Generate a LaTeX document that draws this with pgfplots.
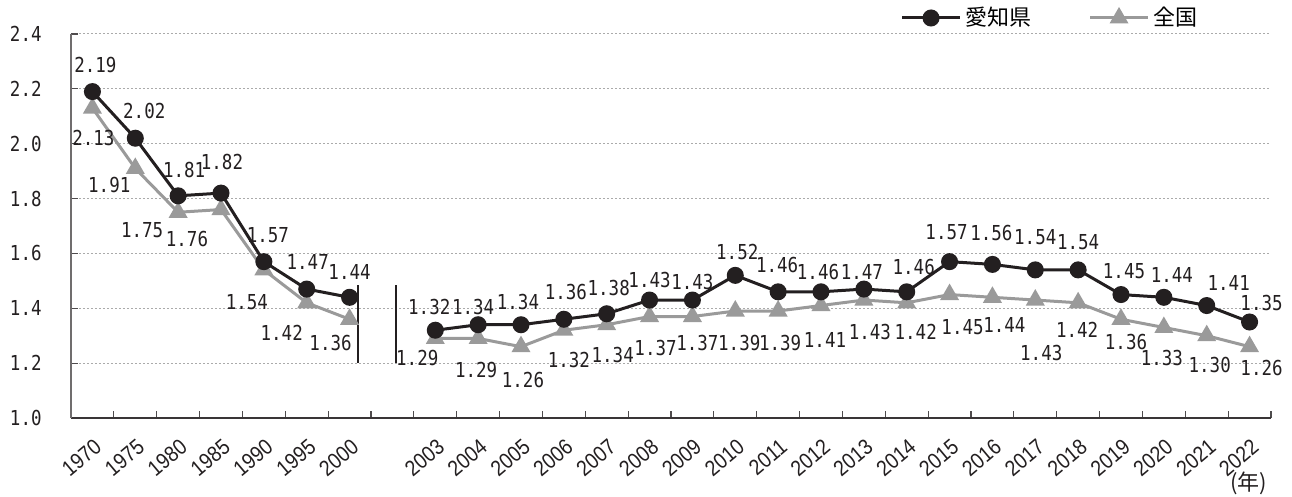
\documentclass[border=0pt]{standalone}
\usepackage{fontspec}
\usepackage{pgfplots}
\pgfplotsset{compat=1.18}
\setmainfont{Liberation Sans}
\newfontfamily\numfont[FakeStretch=0.85]{DejaVu Sans Mono}
\newfontfamily\xfont[FakeStretch=0.88]{Liberation Sans}
\newfontfamily\cjk{Noto Sans CJK JP}
\definecolor{aichi}{HTML}{231F20}
\definecolor{zenkoku}{HTML}{9A9A9A}
\definecolor{gridc}{HTML}{AAAAAA}
\newcommand{\numsize}{\numfont\fontsize{10.3pt}{12pt}\selectfont}

\pgfplotstableread{
x y lab dx up
0 2.19 2.19 3 27
1 2.02 2.02 9 27
2 1.81 1.81 6 26
3 1.82 1.82 1 31
4 1.57 1.57 4 27
5 1.47 1.47 1 27
6 1.44 1.44 0 25
}\aichiA
\pgfplotstableread{
x y lab dx up
8 1.32 1.32 -6 23
9 1.34 1.34 -5 18
10 1.34 1.34 -3 23
11 1.36 1.36 2 27
12 1.38 1.38 2 26
13 1.43 1.43 0 20
14 1.43 1.43 0 18
15 1.52 1.52 2 23
16 1.46 1.46 -1 27
17 1.46 1.46 -3 20
18 1.47 1.47 -2 17
19 1.46 1.46 7 25
20 1.57 1.57 -3 30
21 1.56 1.56 -1 31
22 1.54 1.54 0 33
23 1.54 1.54 0 28
24 1.45 1.45 3 23
25 1.44 1.44 8 22
26 1.41 1.41 22 23
27 1.35 1.35 12 19
}\aichiB
\pgfplotstableread{
x y lab dx up
0 2.13 2.13 1 -30
1 1.91 1.91 -26 -17
2 1.75 1.75 -36 -18
3 1.76 1.76 -34 -29
4 1.54 1.54 -17 -32
5 1.42 1.42 -25 -30
6 1.36 1.36 -19 -24
}\natA
\pgfplotstableread{
x y lab dx up
8 1.29 1.29 -18 -20
9 1.29 1.29 -2 -32
10 1.26 1.26 2 -33
11 1.32 1.32 5 -30
12 1.34 1.34 6 -30
13 1.37 1.37 6 -31
14 1.37 1.37 5 -26
15 1.39 1.39 4 -32
16 1.39 1.39 2 -32
17 1.41 1.41 4 -34
18 1.43 1.43 6 -32
19 1.42 1.42 9 -29
20 1.45 1.45 13 -33
21 1.44 1.44 12 -28
22 1.43 1.43 6 -53
23 1.42 1.42 -1 -27
24 1.36 1.36 5 -23
25 1.33 1.33 -2 -31
26 1.30 1.30 3 -29
27 1.26 1.26 12 -21
}\natB

\begin{document}
\begin{tikzpicture}
\begin{axis}[name=ax, scale only axis, width=600pt, height=192pt,
  xmin=-0.5, xmax=27.5, ymin=1.0, ymax=2.4,
  clip=false,
  axis x line*=bottom, axis y line*=left,
  x axis line style={color=aichi!90, line width=0.7pt},
  y axis line style={color=aichi!65, line width=0.7pt},
  tick align=inside,
  major tick length=3.5pt,
  tick style={color=aichi!80, line width=0.6pt},
  xtick={-0.5,0.5,...,27.5},
  xticklabels={},
  extra x ticks={0,1,2,3,4,5,6,8,9,10,11,12,13,14,15,16,17,18,19,20,21,22,23,24,25,26,27},
  extra x tick labels={1970,1975,1980,1985,1990,1995,2000,2003,2004,2005,2006,2007,2008,2009,2010,2011,2012,2013,2014,2015,2016,2017,2018,2019,2020,2021,2022},
  extra x tick style={tick style={draw=none}},
  xticklabel style={font=\xfont\fontsize{11pt}{13pt}\selectfont, text=aichi, inner sep=0pt, anchor=east, xshift=3pt, yshift=-13pt, rotate=40},
  ytick={1.0,1.2,1.4,1.6,1.8,2.0,2.2,2.4},
  yticklabels={1.0,1.2,1.4,1.6,1.8,2.0,2.2,2.4},
  yticklabel style={font=\numsize, text=aichi, inner sep=0pt, anchor=east, xshift=-14.5pt},
  ymajorgrids,
  grid style={color=gridc, line width=0.5pt, dash pattern=on 1pt off 1pt},
  legend columns=2,
  legend style={at={(0.8167,1.0417)}, anchor=center, draw=none, fill=none,
    font=\cjk\fontsize{11pt}{13pt}\selectfont, inner sep=0pt,
    /tikz/every even column/.append style={column sep=26.5pt}},
  legend image code/.code={\draw[mark repeat=2,mark phase=2,#1] plot coordinates {(0pt,0pt) (14.5pt,0pt) (29pt,0pt)};},
  aichist/.style={color=aichi, line width=1.5pt, mark=*, mark size=3.5pt, mark options={solid}},
  natst/.style={color=zenkoku, line width=1.5pt, mark=triangle*, mark size=4pt, mark options={solid}},
]
\addlegendimage{aichist}
\addlegendentry{愛知県}
\addlegendimage{natst}
\addlegendentry{全国}
\addplot[natst, forget plot, nodes near coords={\pgfplotspointmeta}, point meta=explicit symbolic,
    visualization depends on={\thisrow{dx} \as \dx},
    visualization depends on={\thisrow{up} \as \up},
    every node near coord/.append style={font=\numsize, text=aichi, anchor=center, inner sep=0pt,
      xshift={\dx*0.5pt}, yshift={\up*0.5pt}}] table[x=x, y=y, meta=lab] {\natA};
\addplot[natst, forget plot, nodes near coords={\pgfplotspointmeta}, point meta=explicit symbolic,
    visualization depends on={\thisrow{dx} \as \dx},
    visualization depends on={\thisrow{up} \as \up},
    every node near coord/.append style={font=\numsize, text=aichi, anchor=center, inner sep=0pt,
      xshift={\dx*0.5pt}, yshift={\up*0.5pt}}] table[x=x, y=y, meta=lab] {\natB};
\addplot[aichist, forget plot, nodes near coords={\pgfplotspointmeta}, point meta=explicit symbolic,
    visualization depends on={\thisrow{dx} \as \dx},
    visualization depends on={\thisrow{up} \as \up},
    every node near coord/.append style={font=\numsize, text=aichi, anchor=center, inner sep=0pt,
      xshift={\dx*0.5pt}, yshift={\up*0.5pt}}] table[x=x, y=y, meta=lab] {\aichiA};
\addplot[aichist, forget plot, nodes near coords={\pgfplotspointmeta}, point meta=explicit symbolic,
    visualization depends on={\thisrow{dx} \as \dx},
    visualization depends on={\thisrow{up} \as \up},
    every node near coord/.append style={font=\numsize, text=aichi, anchor=center, inner sep=0pt,
      xshift={\dx*0.5pt}, yshift={\up*0.5pt}}] table[x=x, y=y, meta=lab] {\aichiB};
\addplot[aichi, line width=1pt, no marks, forget plot] coordinates {(6.2,1.2) (6.2,1.485)};
\addplot[aichi, line width=1pt, no marks, forget plot] coordinates {(7.08,1.2) (7.08,1.485)};
\node[font=\cjk\fontsize{11pt}{13pt}\selectfont, text=aichi, inner sep=0pt, yshift=-32.5pt] at (axis cs:26.98,1.0) {(年)};
\end{axis}
\pgfresetboundingbox
\path[use as bounding box] ([shift={(-35.5pt,-39.5pt)}]ax.south west) rectangle ([shift={(10.5pt,17pt)}]ax.north east);
\end{tikzpicture}
\end{document}
